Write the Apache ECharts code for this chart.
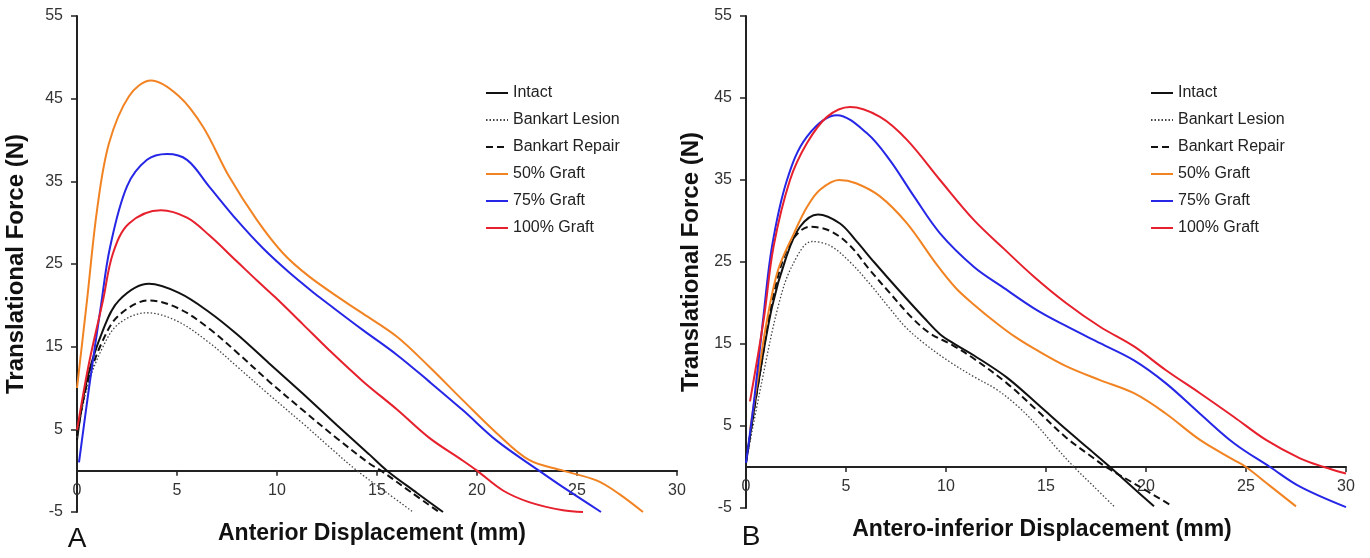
<!DOCTYPE html>
<html>
<head>
<meta charset="utf-8">
<script src="https://cdn.jsdelivr.net/npm/echarts@6/dist/echarts.min.js"></script>
<style>
  html, body { margin: 0; padding: 0; background: #fff; }
  #chart { width: 1370px; height: 558px; }
</style>
</head>
<body>
<div id="chart"></div>
<script>
// series names / legend
const seriesNames = ["Intact", "Bankart Lesion", "Bankart Repair", "50% Graft", "75% Graft", "100% Graft"];
const xTicks = [0, 5, 10, 15, 20, 25, 30];
const yTicks = [-5, 5, 15, 25, 35, 45, 55];

// panel A: anterior displacement (mm) vs translational force (N)
const aIntact = [[0,3.7],[0.5,11],[1.3,17],[2.1,20.6],[3.6,22.6],[5.1,21.5],[6.6,19.2],[8,16.5],[9.6,13],[11.3,9.3],[13,5.5],[14.6,2],[15.5,0],[17,-2.7],[18.3,-5]];
const aLesion = [[0,4],[0.5,10],[1.3,15],[2.1,17.8],[3.5,19.1],[5,18.1],[6.6,15.5],[8,12.6],[9.6,9.2],[11.3,5.7],[12.7,2.7],[14,0],[15.4,-2.5],[16.8,-5]];
const aRepair = [[0,4.2],[0.5,10.5],[1.3,15.8],[2.1,18.8],[3.6,20.6],[5.1,19.6],[6.6,17.2],[8,14.3],[9.6,10.8],[11.3,7.3],[13,3.9],[14.6,0.9],[15.2,0],[16.7,-2.6],[18.1,-5]];
const aGraft50 = [[0,10],[0.5,20.6],[1,31.5],[1.6,39.6],[2.6,45.3],[3.7,47.2],[5.1,45.3],[6.3,41.6],[7.6,35.6],[9,30.3],[10.3,26.3],[11.6,23.5],[13.3,20.6],[14.3,19],[16,16.2],[17.6,12.6],[19.3,8.5],[21,4.5],[22.6,1.3],[24.3,0],[26,-1.2],[27.1,-2.8],[28.3,-5]];
const aGraft75 = [[0.1,1],[0.6,10],[1.2,20],[1.65,27],[2.5,34.4],[3.5,37.6],[4.5,38.3],[5.5,37.6],[6.6,34.4],[8,30.3],[9.3,26.9],[10.6,24],[11.9,21.4],[12.6,20.1],[14.3,17],[16,14],[17.6,10.8],[19.3,7.3],[21,3.6],[23.1,0],[24.3,-2],[26.2,-5]];
const aGraft100 = [[0,4.9],[0.6,13],[1.3,20.6],[1.8,26.3],[2.6,29.9],[4.2,31.5],[5.5,30.6],[6.6,28.5],[8,25.3],[9,23],[9.9,21],[11.3,17.7],[12.6,14.6],[14.3,10.8],[16,7.4],[17.6,4],[19.3,1.2],[20,0],[21.3,-2.4],[22.6,-3.8],[24.3,-4.8],[25.3,-5]];

// panel B: antero-inferior displacement (mm) vs translational force (N)
const bIntact = [[0,0.5],[0.6,10],[1.3,19.5],[2,25.5],[2.7,29.3],[3.6,30.8],[4.7,29.7],[5.5,27.6],[6.4,25],[7.7,21.4],[8.9,18.2],[9.7,16.2],[10.5,14.9],[11.4,13.6],[13.05,10.9],[14.7,7.4],[16,4.6],[17.2,2.1],[18.2,0],[19.3,-2.4],[20.4,-4.8]];
const bLesion = [[0,0.5],[0.8,10.5],[1.6,19.5],[2.3,24.5],[3.3,27.5],[4.2,27],[5.2,25],[6.2,22.3],[7.2,19.3],[8,17],[9,14.9],[10.2,12.8],[11.4,11],[12.5,9.5],[13.5,7.6],[14.5,5.2],[15.5,2.4],[16.4,0],[17.4,-2.4],[18.4,-4.8]];
const bRepair = [[0,0.5],[0.7,11.5],[1.4,21.2],[2.2,27.2],[3.2,29.3],[4.2,28.8],[5.2,27],[6.2,24],[7.2,21.2],[8.3,18.2],[9.2,16.3],[10.3,14.9],[11.4,13.2],[13.05,10.2],[14.6,6.8],[16,3.6],[17.2,1.4],[18,0],[19.4,-2],[21.2,-4.6]];
const bGraft50 = [[0.2,4.5],[0.6,11],[1.05,17.9],[1.6,24],[2.4,28.5],[3.05,31.7],[3.7,33.8],[4.65,35],[5.5,34.6],[6.7,33],[8.05,29.7],[9.5,24.8],[10.5,21.8],[11.4,19.8],[12.5,17.6],[13.5,15.8],[14.5,14.3],[16,12.3],[17.7,10.6],[19.4,9],[21,6.5],[22.7,3.3],[24.4,0.85],[25,0],[26.2,-2.3],[27.5,-4.8]];
const bGraft75 = [[0,0.5],[0.4,8],[0.85,17.9],[1.3,26.9],[2.05,35],[3.05,40.3],[4.55,42.9],[6.05,40.7],[7.2,37.4],[8.4,33],[9.7,28.5],[11.4,24.4],[12.8,22],[14.5,19.2],[16,17.2],[17.7,15.1],[19.4,13],[21,10.2],[22.7,6.5],[24.4,2.9],[26.2,0],[27.7,-2.4],[30,-4.9]];
const bGraft100 = [[0.2,8],[0.88,17.9],[1.38,26.9],[2.2,35],[3.05,39.5],[4.05,42.7],[5.2,43.9],[6.7,42.7],[8.05,39.9],[9.7,35],[11.4,30.1],[12.9,26.6],[14.4,23.2],[16,20],[17.7,17.1],[19.4,14.7],[21,11.8],[22.7,9],[24.4,6.1],[26,3.3],[27.7,1.06],[28.9,0],[30,-0.8]];

const font = "'Liberation Sans', Arial, sans-serif";
const styles = {
  "Intact": { color: "#111", width: 2, type: "solid" },
  "Bankart Lesion": { color: "#444", width: 1.3, type: [1.5, 2] },
  "Bankart Repair": { color: "#111", width: 2, type: [7, 4] },
  "50% Graft": { color: "#F28322", width: 2, type: "solid" },
  "75% Graft": { color: "#2626E6", width: 2, type: "solid" },
  "100% Graft": { color: "#E6202C", width: 2, type: "solid" },
};

function makeSeries(name, data, idx) {
  const s = styles[name];
  return {
    name: name,
    type: "line",
    xAxisIndex: idx,
    yAxisIndex: idx,
    data: data,
    smooth: 0.35,
    symbol: "none",
    color: s.color,
    lineStyle: { color: s.color, width: s.width, type: s.type },
    z: 3,
  };
}

// each panel: main grid (data, y axis) + overlay grid whose bottom sits at y = 0 (x axis)
function hiddenX(idx) {
  return { type: "value", gridIndex: idx, min: 0, max: 30, show: false };
}
function shownX(idx) {
  return {
    type: "value",
    gridIndex: idx,
    min: 0,
    max: 30,
    interval: 5,
    axisLine: { onZero: false, lineStyle: { color: "#222", width: 2 } },
    axisTick: { length: 5, lineStyle: { color: "#222", width: 1.5 } },
    axisLabel: { fontSize: 16, color: "#333", fontFamily: font, margin: 12 },
    splitLine: { show: false },
  };
}
function shownY(idx) {
  return {
    type: "value",
    gridIndex: idx,
    min: -5,
    max: 55,
    axisLine: { show: true, onZero: false, lineStyle: { color: "#222", width: 2 } },
    axisTick: { show: true, length: 6, customValues: yTicks, lineStyle: { color: "#222", width: 1.5 } },
    axisLabel: { fontSize: 16, color: "#333", fontFamily: font, margin: 14, customValues: yTicks },
    splitLine: { show: false },
  };
}
function hiddenY(idx) {
  return { type: "value", gridIndex: idx, min: 0, max: 55, show: false };
}

function legendFor(left) {
  return {
    data: seriesNames,
    orient: "vertical",
    left: left,
    top: 85,
    padding: 0,
    itemWidth: 22,
    itemHeight: 16,
    itemGap: 11,
    itemStyle: { opacity: 0 },
    textStyle: { fontSize: 16, color: "#222", fontFamily: font, lineHeight: 16 },
  };
}

function titleText(text, x, y, size, weight, rot) {
  return {
    type: "text",
    x: x,
    y: y,
    rotation: rot || 0,
    style: {
      text: text,
      fill: "#111",
      font: weight + " " + size + "px " + font,
      textAlign: "center",
      textVerticalAlign: "middle",
    },
  };
}

const chart = echarts.init(document.getElementById("chart"), null, { renderer: "canvas" });
const option = {
  animation: false,
  backgroundColor: "#fff",
  grid: [
    { left: 77, top: 16, width: 600, height: 496 },
    { left: 77, top: 16, width: 600, height: 454.7 },
    { left: 746, top: 16, width: 600, height: 492 },
    { left: 746, top: 16, width: 600, height: 451 },
  ],
  xAxis: [hiddenX(0), shownX(1), hiddenX(2), shownX(3)],
  yAxis: [shownY(0), hiddenY(1), shownY(2), hiddenY(3)],
  legend: [legendFor(485), legendFor(1150)],
  graphic: [
    titleText("Translational Force (N)", 16, 264, 24, "bold", Math.PI / 2),
    titleText("Translational Force (N)", 691, 262, 24, "bold", Math.PI / 2),
    titleText("Anterior Displacement (mm)", 372, 534, 23, "bold"),
    titleText("Antero-inferior Displacement (mm)", 1042, 530, 23, "bold"),
    titleText("A", 77, 539, 28, "normal"),
    titleText("B", 751, 537, 28, "normal"),
  ],
  series: [
    makeSeries("Intact", aIntact, 0),
    makeSeries("Bankart Lesion", aLesion, 0),
    makeSeries("Bankart Repair", aRepair, 0),
    makeSeries("50% Graft", aGraft50, 0),
    makeSeries("75% Graft", aGraft75, 0),
    makeSeries("100% Graft", aGraft100, 0),
    makeSeries("Intact", bIntact, 2),
    makeSeries("Bankart Lesion", bLesion, 2),
    makeSeries("Bankart Repair", bRepair, 2),
    makeSeries("50% Graft", bGraft50, 2),
    makeSeries("75% Graft", bGraft75, 2),
    makeSeries("100% Graft", bGraft100, 2),
  ],
};
chart.setOption(option);
</script>
</body>
</html>
